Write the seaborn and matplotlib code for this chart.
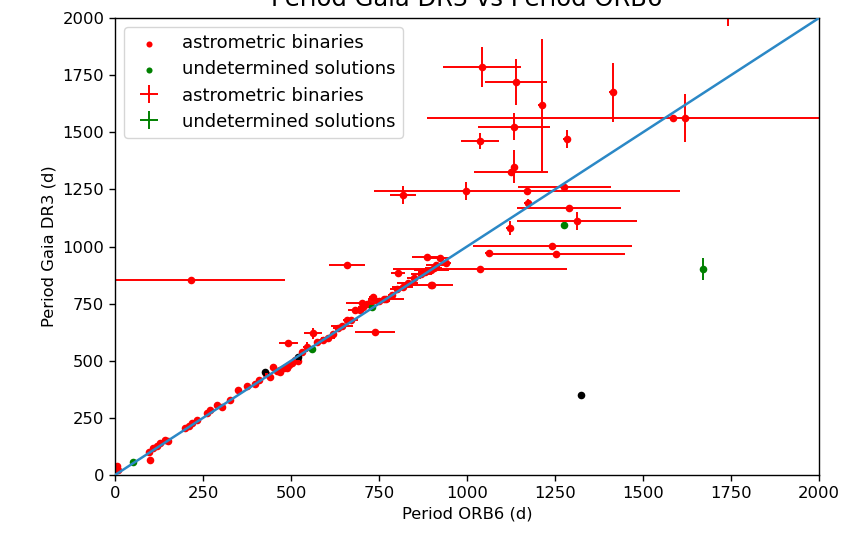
import matplotlib
matplotlib.use("Agg")
import matplotlib.pyplot as plt
import seaborn as sns
import pandas as pd

# ---- data: astrometric binaries (red) ----
ab_x = [1043, 1139, 1212, 1414, 1585, 1619, 1134, 1037, 1283, 1134, 1125,
        818, 997, 1170, 1276, 1173, 1290, 1312, 1122, 1242, 1062, 1253,
        1037, 900, 216, 659, 739, 1741, 804,
        885, 899, 913, 923, 899, 832, 818, 786, 770, 800, 850, 870, 940, 905, 880,
        5, 8, 99, 97, 109, 118, 128, 142, 150, 199, 210, 218, 233, 260, 270,
        290, 304, 327, 350, 375, 398, 410, 430, 449, 460, 469, 480, 489, 495,
        503, 510, 492, 530, 545, 563, 575, 590, 605, 620, 634, 645, 658, 670,
        682, 696, 705, 702, 715, 733, 750, 765, 470, 440, 520]
ab_y = [1786, 1719, 1619, 1675, 1562, 1562, 1524, 1463, 1469, 1350, 1326,
        1225, 1243, 1243, 1260, 1190, 1168, 1112, 1081, 1003, 973, 967,
        902, 830, 853, 919, 628, 2080, 884,
        955, 897, 919, 950, 831, 840, 824, 788, 770, 815, 862, 880, 930, 905, 890,
        40, 20, 65, 100, 118, 128, 140, 153, 150, 206, 215, 227, 241, 270, 284,
        306, 298, 328, 372, 390, 398, 415, 440, 473, 455, 451, 470, 468, 480,
        490, 505, 577, 540, 560, 620, 580, 590, 600, 615, 643, 650, 678, 680,
        722, 722, 735, 753, 750, 779, 760, 770, 460, 430, 500]
ab_xerr = [110, 87, 10, 10, 700, 10, 103, 54, 10, 10, 105,
           36, 10, 435, 132, 10, 148, 170, 10, 226, 10, 196,
           246, 60, 268, 52, 57, 5, 20,
           40, 50, 30, 25, 10, 30, 30, 10, 50, 20, 20, 30, 15, 25, 20,
           5, 5, 5, 5, 5, 5, 5, 5, 5, 5, 5, 5, 5, 5, 5,
           5, 5, 5, 5, 5, 5, 5, 5, 5, 5, 5, 5, 5, 5,
           5, 5, 27, 5, 10, 25, 10, 10, 20, 10, 15, 30, 10, 20,
           20, 10, 15, 45, 20, 10, 30, 15, 5, 5, 5]
ab_yerr = [88, 100, 290, 130, 12, 105, 60, 35, 40, 72, 10,
           40, 40, 10, 20, 20, 10, 40, 30, 10, 10, 10,
           10, 10, 8, 10, 10, 115, 10,
           10, 10, 10, 10, 10, 10, 10, 10, 10, 10, 10, 10, 10, 10, 10,
           5, 5, 5, 5, 5, 5, 5, 5, 5, 5, 5, 5, 5, 5, 5,
           5, 5, 5, 5, 5, 5, 5, 5, 5, 5, 5, 5, 5, 5,
           5, 5, 10, 5, 20, 25, 10, 10, 10, 10, 10, 10, 10, 10,
           10, 10, 10, 10, 10, 10, 10, 10, 5, 5, 5]

# ---- data: undetermined solutions (green) ----
un_x = [52, 559, 1276, 1670, 729]
un_y = [55, 550, 1094, 902, 737]
un_xerr = [5, 5, 5, 5, 5]
un_yerr = [5, 5, 5, 48, 5]

# ---- other points (black) ----
ot_x = [426, 519, 1324]
ot_y = [452, 516, 350]

# ---- one-to-one line ----
line_x = [0, 2000]
line_y = [0, 2000]

ticks = [0, 250, 500, 750, 1000, 1250, 1500, 1750, 2000]

ab = pd.DataFrame({"x": ab_x, "y": ab_y})
un = pd.DataFrame({"x": un_x, "y": un_y})
ot = pd.DataFrame({"x": ot_x, "y": ot_y})
ln = pd.DataFrame({"x": line_x, "y": line_y})

plt.rcParams["font.family"] = ["DejaVu Sans"]
fig = plt.figure(figsize=(8.48, 5.39), dpi=100)
ax = fig.add_axes([0.1356, 0.1187, 0.8302, 0.8479])

sns.scatterplot(data=ab, x="x", y="y", color="red", s=30, linewidth=0,
                label="astrometric binaries", ax=ax, zorder=2)
sns.scatterplot(data=un, x="x", y="y", color="green", s=30, linewidth=0,
                label="undetermined solutions", ax=ax, zorder=2)
sns.scatterplot(data=ot, x="x", y="y", color="black", s=30, linewidth=0,
                ax=ax, zorder=2, legend=False)

ax.errorbar(ab_x, ab_y, xerr=ab_xerr, yerr=ab_yerr, fmt="none", ecolor="red",
            elinewidth=1.4, label="astrometric binaries", zorder=2)
ax.errorbar(un_x, un_y, xerr=un_xerr, yerr=un_yerr, fmt="none", ecolor="green",
            elinewidth=1.4, label="undetermined solutions", zorder=2)

sns.lineplot(data=ln, x="x", y="y", color="#2b88c6", linewidth=1.8, ax=ax,
             zorder=3, legend=False)

ax.set_xlim(0, 2000)
ax.set_ylim(0, 2000)
ax.set_xticks(ticks)
ax.set_yticks(ticks)
ax.tick_params(labelsize=11.8, length=4.2, width=1.0)
for s in ax.spines.values():
    s.set_linewidth(1.0)
ax.set_xlabel("Period ORB6 (d)", fontsize=11.8)
ax.set_ylabel("Period Gaia DR3 (d)", fontsize=11.8)
ax.set_title("Period Gaia DR3 vs Period ORB6", fontsize=17.5, pad=9)
ax.legend(loc="upper left", fontsize=13, labelspacing=0.45, markerscale=0.8)

fig.savefig("out.png", dpi=100)
